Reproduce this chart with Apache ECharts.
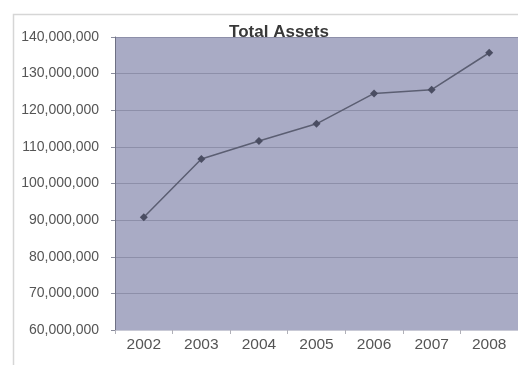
<!DOCTYPE html>
<html>
<head>
<meta charset="utf-8">
<style>
  html, body { margin: 0; padding: 0; background: #ffffff; overflow: hidden; }
  #chart { width: 518px; height: 365px; }
</style>
<script src="https://cdn.jsdelivr.net/npm/echarts@6/dist/echarts.min.js"></script>
</head>
<body>
<div id="chart"></div>
<script>
// Year categories along the bottom axis
const years = ['2002', '2003', '2004', '2005', '2006', '2007', '2008'];
// Total assets per year
const totalAssets = [90800000, 106700000, 111600000, 116300000, 124600000, 125600000, 135700000];
// Value axis range and step
const yMin = 60000000;
const yMax = 140000000;
const yStep = 10000000;

const chart = echarts.init(document.getElementById('chart'), null, { renderer: 'canvas' });

function withCommas(v) {
  return String(Math.round(v)).replace(/\B(?=(\d{3})+(?!\d))/g, ',');
}

chart.setOption({
  animation: false,
  backgroundColor: '#ffffff',
  textStyle: { fontFamily: 'Liberation Sans, Arial, sans-serif' },
  graphic: [{
    type: 'rect',
    shape: { x: 13.5, y: 14.5, width: 600, height: 400 },
    style: { fill: 'none', stroke: '#d6d6d6', lineWidth: 1.5 },
    z: -10
  }],
  title: {
    text: 'Total Assets',
    left: 274,
    textAlign: 'center',
    top: 19,
    textStyle: { fontSize: 17, fontWeight: 'bold', color: '#383838', fontFamily: 'Liberation Sans, Arial, sans-serif' }
  },
  grid: {
    left: 115,
    top: 37,
    width: 412,
    height: 293,
    show: true,
    backgroundColor: '#a9abc5',
    borderWidth: 0
  },
  xAxis: {
    type: 'category',
    data: years,
    boundaryGap: true,
    axisLine: { show: true, lineStyle: { color: '#c9cad6', width: 1 } },
    axisTick: { show: true, length: 4, lineStyle: { color: '#b0b0b8' } },
    axisLabel: { color: '#555555', fontSize: 15.5, margin: 7 },
    splitLine: { show: false }
  },
  yAxis: {
    type: 'value',
    min: yMin,
    max: yMax,
    interval: yStep,
    axisLine: { show: true, lineStyle: { color: '#6e7083', width: 1 } },
    axisTick: { show: true, length: 4, lineStyle: { color: '#8a8c9c' } },
    axisLabel: {
      color: '#555555',
      fontSize: 14,
      margin: 16,
      formatter: withCommas
    },
    splitLine: { show: true, lineStyle: { color: '#8d8fa9', width: 1.2 } }
  },
  series: [{
    type: 'line',
    data: totalAssets,
    symbol: 'diamond',
    symbolSize: 8,
    lineStyle: { color: '#5b5e72', width: 1.5 },
    itemStyle: { color: '#4a4d62' }
  }]
});
</script>
</body>
</html>
